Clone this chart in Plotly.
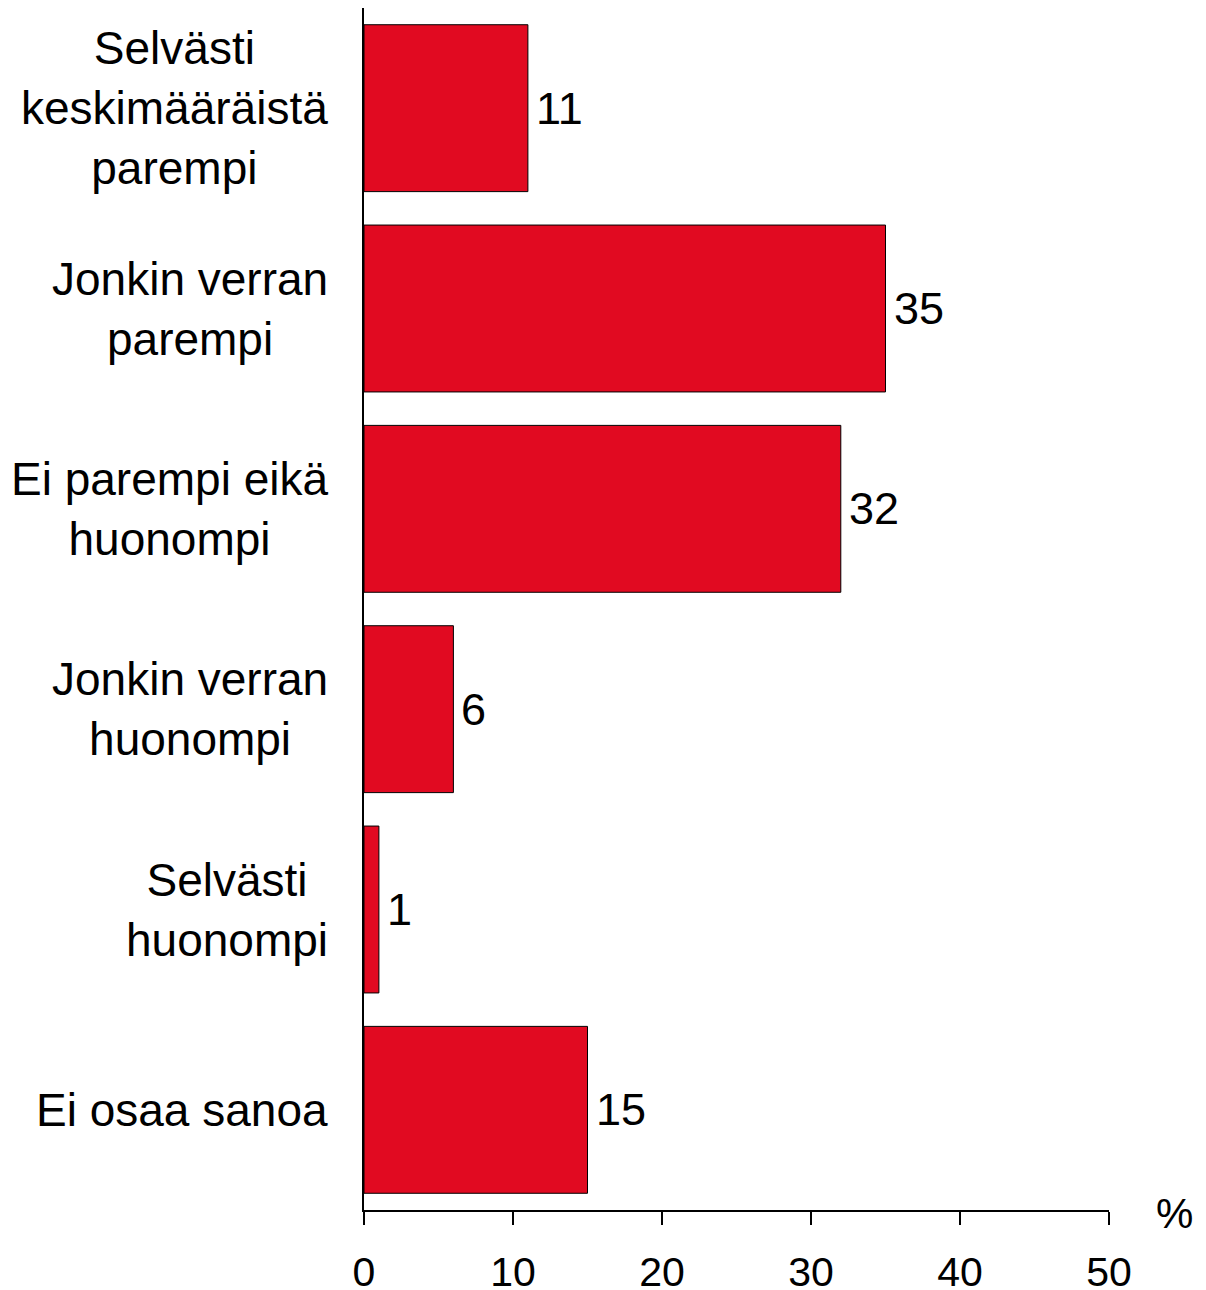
import plotly.graph_objects as go

categories = [
    "Selvästi<br>keskimääräistä<br>parempi",
    "Jonkin verran<br>parempi",
    "Ei parempi eikä<br>huonompi",
    "Jonkin verran<br>huonompi",
    "Selvästi<br>huonompi",
    "Ei osaa sanoa",
]
values = [11, 35, 32, 6, 1, 15]
x_ticks = [0, 10, 20, 30, 40, 50]

FONT = "Liberation Sans, Arial, sans-serif"

fig = go.Figure()
fig.add_trace(go.Bar(
    x=values,
    y=list(range(len(categories))),
    orientation="h",
    marker=dict(color="#E10A21", line=dict(color="black", width=1)),
    width=0.833,
    hoverinfo="skip",
))

# category labels as centred multi-line annotations
for i, cat in enumerate(categories):
    fig.add_annotation(
        x=-0.045, xref="paper", y=i, yref="y",
        text=cat, showarrow=False, xanchor="right", yanchor="middle",
        align="center", font=dict(family=FONT, size=46, color="black"),
    )

# value labels
for i, v in enumerate(values):
    fig.add_annotation(
        x=v, y=i, text=str(v), showarrow=False,
        xanchor="left", yanchor="middle", xshift=6,
        font=dict(family=FONT, size=45, color="black"),
    )

fig.add_annotation(
    x=1.088, xref="paper", y=0, yref="paper", text="%",
    showarrow=False, xanchor="center", yanchor="middle", yshift=-3,
    font=dict(family=FONT, size=42, color="black"),
)

# page body adds an 8px offset, so the figure is sized down to compensate
fig.update_layout(
    width=1198, height=1282,
    margin=dict(l=356, r=97, t=0, b=80),
    paper_bgcolor="white", plot_bgcolor="white",
    showlegend=False,
    font=dict(family=FONT, color="black"),
    xaxis=dict(
        range=[0, 50], tickvals=x_ticks, ticks="outside", ticklen=13,
        tickwidth=1.5, tickcolor="black", showline=True, linecolor="black",
        linewidth=1.5, showgrid=False, zeroline=False, ticklabelstandoff=12,
        automargin=False,
        tickfont=dict(family=FONT, size=41, color="black"),
    ),
    yaxis=dict(
        range=[5.5, -0.5], showticklabels=False, ticks="",
        showline=True, linecolor="black", linewidth=1.5,
        showgrid=False, zeroline=False, automargin=False,
    ),
)

fig.write_html("out.html")
